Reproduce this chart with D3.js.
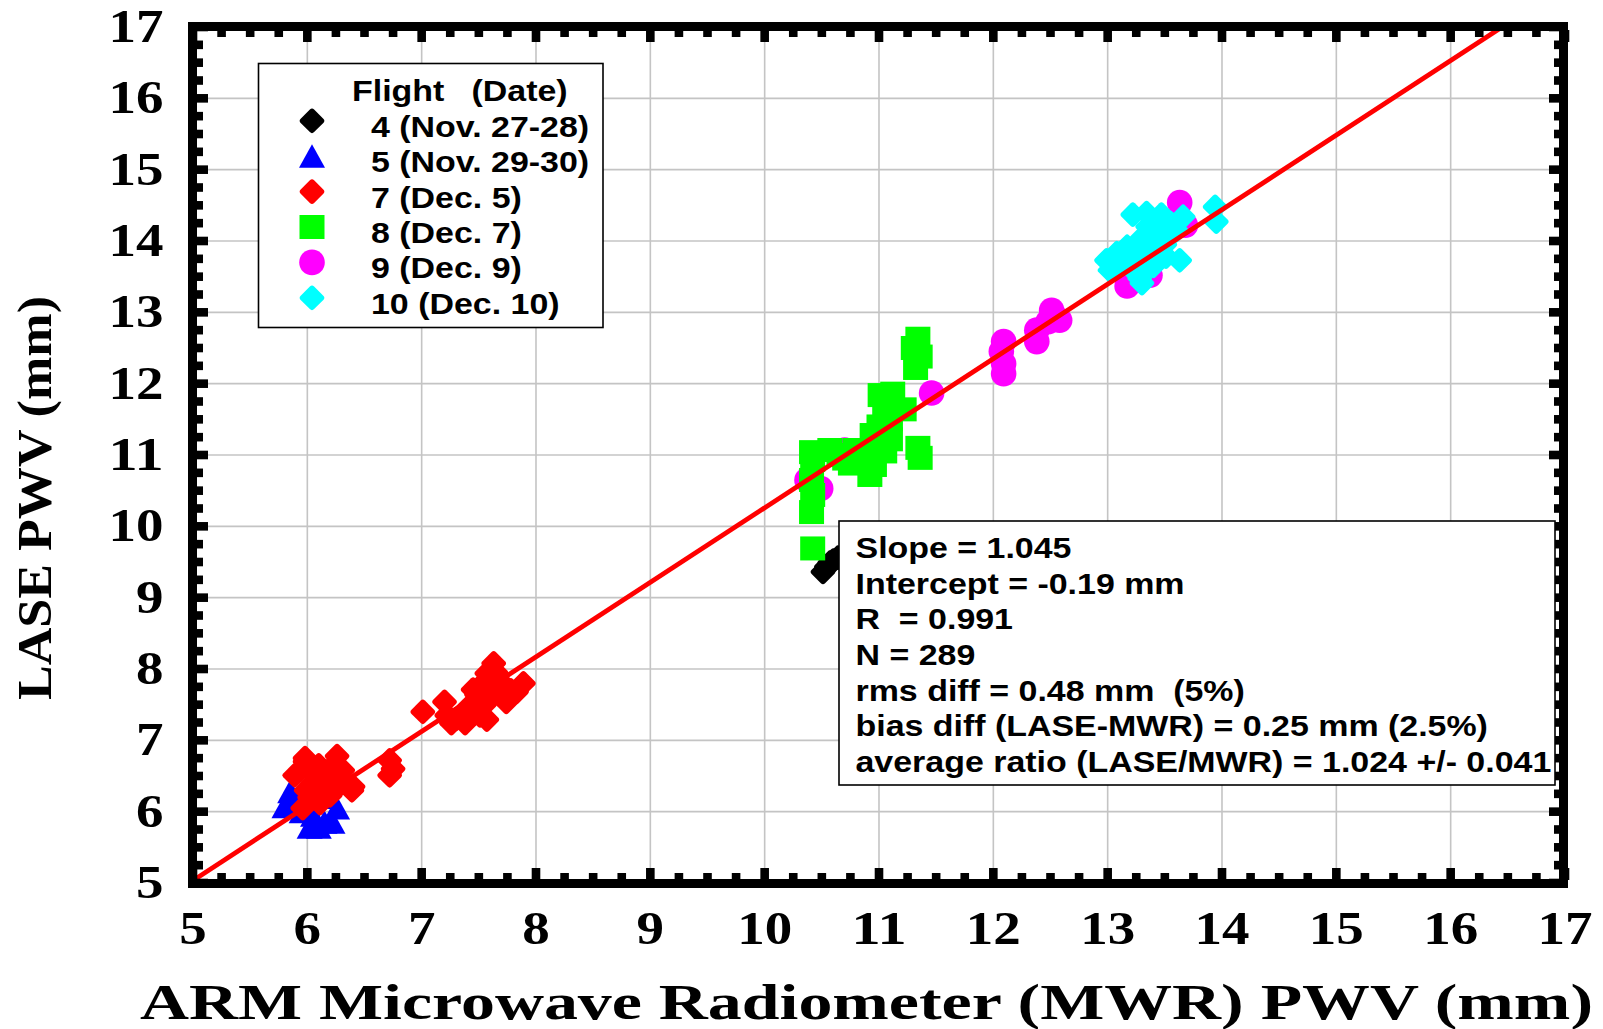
<!DOCTYPE html>
<html><head><meta charset="utf-8">
<script src="https://cdn.jsdelivr.net/npm/d3@7"></script>
<style>html,body{margin:0;padding:0;background:#fff;} svg{display:block}</style>
</head><body>
<svg id="chart" width="1603" height="1029"></svg>
<script>
// ---------------- data ----------------
const xTicks = [5,6,7,8,9,10,11,12,13,14,15,16,17];
const yTicks = [5,6,7,8,9,10,11,12,13,14,15,16,17];
const xTitle = "ARM Microwave Radiometer (MWR) PWV (mm)";
const yTitle = "LASE PWV (mm)";
const legendHeader = ["Flight", "(Date)"];
const legendLabels = ["4 (Nov. 27-28)", "5 (Nov. 29-30)", "7 (Dec. 5)", "8 (Dec. 7)", "9 (Dec. 9)", "10 (Dec. 10)"];
const seriesColors = ["#000000", "#0000ff", "#ff0000", "#00ff00", "#ff00ff", "#00ffff"];
const seriesShapes = ["diamond", "triangle", "diamond", "square", "circle", "diamond"];

const flight4 = [[10.51,9.36],[10.57,9.49],[10.64,9.56],[10.54,9.43],[10.60,9.52]];
const flight5 = [[5.80,6.07],[5.85,6.28],[5.90,6.15],[6.00,6.10],[6.05,5.95],[6.02,5.78],[6.10,5.78],
                 [6.15,5.85],[6.22,5.85],[6.26,6.05],[6.20,6.20],[6.08,6.30],[5.95,6.00]];
const flight7 = [[5.98,6.75],[6.26,6.78],[5.99,6.72],[5.98,6.70],[5.89,6.51],[5.99,6.30],[5.96,6.05],
                 [6.11,6.12],[6.20,6.23],[6.14,6.49],[6.31,6.58],[6.40,6.35],[6.39,6.30],[6.05,6.40],
                 [6.05,6.55],[6.15,6.35],[6.25,6.45],[6.10,6.65],[6.20,6.60],[6.30,6.40],[6.02,6.20],
                 [6.72,6.72],[6.72,6.51],[6.75,6.60],
                 [7.01,7.40],[7.20,7.54],[7.26,7.24],[7.38,7.24],[7.51,7.35],[7.57,7.29],[7.48,7.64],
                 [7.63,8.08],[7.57,7.94],[7.54,7.80],[7.68,7.64],[7.89,7.80],[7.83,7.68],[7.74,7.54],
                 [7.60,7.94],[7.45,7.71],[7.67,7.85],[7.30,7.30],[7.40,7.45],[7.55,7.50],[7.62,7.70],
                 [7.70,7.75],[7.78,7.70],[7.52,7.60],[7.58,7.86],[7.65,7.95],[7.22,7.35]];
const flight9 = [[10.37,10.65],[10.49,10.53],[10.70,11.07],[11.46,11.87],
                 [12.09,12.59],[12.07,12.45],[12.09,12.28],[12.09,12.14],
                 [12.38,12.75],[12.38,12.59],[12.51,13.03],[12.58,12.89],[12.48,12.87],
                 [13.17,13.37],[13.37,13.52],[13.46,14.08],[13.68,14.22],[13.63,14.54],[13.30,13.60]];
const flight8 = [[11.34,12.63],[11.30,12.50],[11.36,12.38],[11.32,12.22],
                 [11.34,11.10],[11.36,10.96],
                 [11.01,11.84],[11.12,11.86],[11.22,11.64],[11.10,11.50],[11.05,11.70],
                 [10.94,11.28],[11.10,11.22],[11.00,11.40],
                 [10.79,11.07],[10.96,10.86],[10.75,10.88],[10.92,10.72],[10.85,10.95],
                 [10.41,11.04],[10.57,11.07],[10.65,11.00],[10.70,10.95],[10.88,11.02],[11.05,11.05],
                 [10.42,10.93],[10.41,10.65],[10.42,10.44],[10.41,10.20],[10.42,9.69]];
const flight10 = [[13.94,14.48],[13.95,14.27],[13.22,14.37],[13.34,14.39],[13.47,14.37],[13.66,14.34],
                  [13.60,14.15],[13.55,14.25],[12.99,13.73],[13.08,13.83],[13.17,13.92],[13.02,13.59],
                  [13.12,13.70],[13.28,14.01],[13.40,14.06],[13.34,13.85],[13.25,13.80],[13.63,13.73],
                  [13.51,13.78],[13.45,13.95],[13.28,13.48],[13.22,13.60],[13.30,13.41],[13.40,13.65],
                  [13.35,14.20],[13.45,14.15],[13.20,13.75],[13.38,13.90],[13.50,13.95]];

const regSlope = 1.045, regIntercept = -0.19;
const statsLines = ["Slope = 1.045", "Intercept = -0.19 mm", "R  = 0.991", "N = 289",
                    "rms diff = 0.48 mm  (5%)", "bias diff (LASE-MWR) = 0.25 mm (2.5%)",
                    "average ratio (LASE/MWR) = 1.024 +/- 0.041"];

// ---------------- drawing ----------------
const svg = d3.select("#chart");
svg.append("rect").attr("width",1603).attr("height",1029).attr("fill","#fff");

const x = d3.scaleLinear().domain([5,17]).range([193,1565]);
const y = d3.scaleLinear().domain([5,17]).range([883,27]);

svg.append("defs").append("clipPath").attr("id","plotclip")
  .append("rect").attr("x",x(5)).attr("y",y(17)).attr("width",x(17)-x(5)).attr("height",y(5)-y(17));

// gridlines
const grid = svg.append("g").attr("stroke","#c4c4c4").attr("stroke-width",1.6);
grid.selectAll(".gx").data(xTicks.slice(1,-1)).join("line")
  .attr("x1",d=>x(d)).attr("x2",d=>x(d)).attr("y1",y(17)).attr("y2",y(5));
grid.selectAll(".gy").data(yTicks.slice(1,-1)).join("line")
  .attr("y1",d=>y(d)).attr("y2",d=>y(d)).attr("x1",x(5)).attr("x2",x(17));

function drawMarker(sel, shape, color) {
  if (shape === "diamond") {
    sel.append("rect").attr("x",-9.5).attr("y",-9.5).attr("width",19).attr("height",19)
      .attr("rx",3).attr("fill",color).attr("transform","rotate(45)");
  } else if (shape === "triangle") {
    sel.append("path").attr("d","M0,-12L13,11.5L-13,11.5Z").attr("fill",color);
  } else if (shape === "square") {
    sel.append("rect").attr("x",-12.5).attr("y",-12).attr("width",25).attr("height",24).attr("fill",color);
  } else {
    sel.append("circle").attr("r",12.8).attr("fill",color);
  }
}

const pts = svg.append("g").attr("clip-path","url(#plotclip)");
const order = [[flight4,0],[flight5,1],[flight7,2],[flight9,4],[flight8,3],[flight10,5]];
order.forEach(([data, si]) => {
  pts.append("g").selectAll("g").data(data).join("g")
    .attr("transform", d => `translate(${x(d[0])},${y(d[1])})`)
    .each(function(){ drawMarker(d3.select(this), seriesShapes[si], seriesColors[si]); });
});

// regression line
const xEnd = (17 - regIntercept) / regSlope;
const lineGen = d3.line().x(d=>x(d)).y(d=>y(regSlope*d + regIntercept));
svg.append("path").attr("clip-path","url(#plotclip)")
  .attr("d", lineGen([5, xEnd])).attr("stroke","#ff0000").attr("stroke-width",4.8).attr("fill","none");

// frame
svg.append("rect").attr("x",x(5)-0.5).attr("y",y(17)-0.5)
  .attr("width",x(17)-x(5)-1).attr("height",y(5)-y(17)+1)
  .attr("fill","none").attr("stroke","#000").attr("stroke-width",9);

// tick marks (inward)
const tickVals = d3.range(5, 17.001, 0.25);
const isMajor = t => Math.abs(t - Math.round(t)) < 1e-6;
const tk = svg.append("g").attr("fill","#000");
const innerL = x(5)+4, innerR = x(17)-5, innerT = y(17)+4, innerB = y(5)-4;
tickVals.forEach(t => {
  const L = isMajor(t) ? 11 : 6;
  tk.append("rect").attr("x",x(t)-4.3).attr("y",innerB-L).attr("width",8.6).attr("height",L+1);
  tk.append("rect").attr("x",x(t)-4.3).attr("y",innerT-1).attr("width",8.6).attr("height",L+1);
  tk.append("rect").attr("y",y(t)-4.3).attr("x",innerL-1).attr("height",8.6).attr("width",L+1);
  tk.append("rect").attr("y",y(t)-4.3).attr("x",innerR-L).attr("height",8.6).attr("width",L+1);
});

// tick labels
const serif = "'Liberation Serif','Times New Roman',serif";
const sans = "'Liberation Sans',Arial,sans-serif";
svg.append("g").selectAll("text").data(xTicks).join("text")
  .attr("x",d=>x(d)).attr("y",944).attr("text-anchor","middle")
  .attr("font-family",serif).attr("font-weight","bold").attr("font-size",46)
  .attr("textLength",d=>String(d).length*27.5).attr("lengthAdjust","spacingAndGlyphs")
  .text(d=>d);
svg.append("g").selectAll("text").data(yTicks).join("text")
  .attr("x",163.5).attr("y",d=>y(d)+15).attr("text-anchor","end")
  .attr("font-family",serif).attr("font-weight","bold").attr("font-size",46)
  .attr("textLength",d=>String(d).length*27.5).attr("lengthAdjust","spacingAndGlyphs")
  .text(d=>d);

// axis titles
svg.append("text").attr("x",(140+1593)/2).attr("y",1019).attr("text-anchor","middle")
  .attr("font-family",serif).attr("font-weight","bold").attr("font-size",51)
  .attr("textLength",1453).attr("lengthAdjust","spacingAndGlyphs").text(xTitle);
svg.append("text").attr("transform","translate(51,498) rotate(-90)").attr("text-anchor","middle")
  .attr("font-family",serif).attr("font-weight","bold").attr("font-size",48)
  .attr("textLength",404).attr("lengthAdjust","spacingAndGlyphs").text(yTitle);

function stretch(sel, f) {
  sel.each(function(){
    const w = this.getComputedTextLength();
    d3.select(this).attr("textLength", w*f).attr("lengthAdjust","spacingAndGlyphs");
  });
}

// legend
const lg = svg.append("g");
lg.append("rect").attr("x",258.5).attr("y",63.5).attr("width",344.5).attr("height",264)
  .attr("fill","#fff").attr("stroke","#000").attr("stroke-width",1.6);
const hdr = lg.append("g").attr("font-family",sans).attr("font-weight","bold").attr("font-size",29.5);
hdr.append("text").attr("x",352).attr("y",101).text(legendHeader[0]);
hdr.append("text").attr("x",471.5).attr("y",101).text(legendHeader[1]);
stretch(hdr.selectAll("text"), 1.15);
legendLabels.forEach((lab, i) => {
  const by = 136.8 + i*35.4;
  const t = lg.append("text").attr("x",371).attr("y",by)
    .attr("font-family",sans).attr("font-weight","bold").attr("font-size",29.5).text(lab);
  stretch(t, 1.15);
  const m = lg.append("g").attr("transform",`translate(312,${by-16})`);
  drawMarker(m, seriesShapes[i], seriesColors[i]);
});

// stats box
const sb = svg.append("g");
sb.append("rect").attr("x",839).attr("y",521).attr("width",716).attr("height",264)
  .attr("fill","#fff").attr("stroke","#000").attr("stroke-width",1.6);
statsLines.forEach((s, i) => {
  const t = sb.append("text").attr("x",855.5).attr("y",558.3 + i*35.55)
    .attr("font-family",sans).attr("font-weight","bold").attr("font-size",29.5)
    .style("white-space","pre").text(s);
  stretch(t, 1.15);
});
</script>
</body></html>
